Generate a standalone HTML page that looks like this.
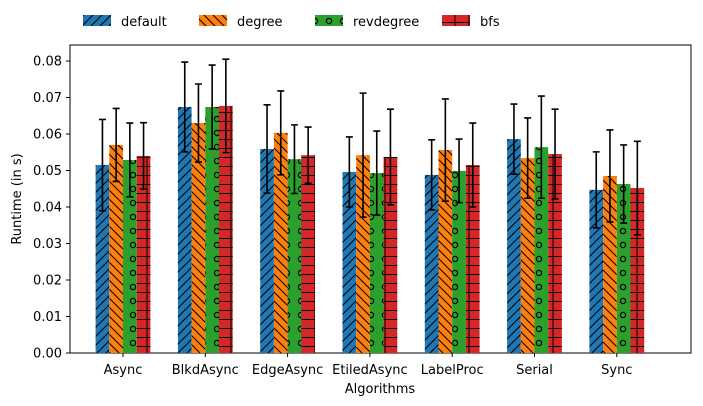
<!DOCTYPE html>
<html><head><meta charset="utf-8"><style>
body{margin:0;background:#fff;}
svg{display:block;font-family:"DejaVu Sans","Liberation Sans",sans-serif;}
</style></head><body>
<svg id="chart" width="703" height="406" viewBox="0 0 703 406">
<defs>
<pattern id="p0" patternUnits="userSpaceOnUse" width="9" height="9"><rect width="9" height="9" fill="#1f77b4"/><path d="M-2,11 L11,-2 M-2,2 L2,-2 M7,11 L11,7" stroke="#000" stroke-width="1"/></pattern>
<pattern id="p1" patternUnits="userSpaceOnUse" width="9" height="9"><rect width="9" height="9" fill="#ff7f0e"/><path d="M-2,-2 L11,11 M7,-2 L11,2 M-2,7 L2,11" stroke="#000" stroke-width="1"/></pattern>
<pattern id="p2" patternUnits="userSpaceOnUse" width="14" height="14"><rect width="14" height="14" fill="#2ca02c"/><circle cx="7" cy="7" r="2.6" fill="none" stroke="#000" stroke-width="1.2"/></pattern>
<pattern id="p3" patternUnits="userSpaceOnUse" width="14" height="9"><rect width="14" height="9" fill="#d62728"/><path d="M0,4.5 H14 M7,0 V9" stroke="#000" stroke-width="1"/></pattern>
</defs>
<g id="legend"></g>
<rect x="70" y="45" width="621" height="308" fill="none" stroke="#000" stroke-width="1"/>
<g id="bars"></g><g id="axes"></g>
<text x="380" y="393" font-size="13" text-anchor="middle">Algorithms</text>
<text x="21" y="199" font-size="13" text-anchor="middle" transform="rotate(-90 21 199)">Runtime (in s)</text>
</svg>
<script>
const categories=["Async","BlkdAsync","EdgeAsync","EtiledAsync","LabelProc","Serial","Sync"];
const seriesNames=["default","degree","revdegree","bfs"];
const defaultVals=[0.0515,0.0674,0.0559,0.0496,0.0488,0.0586,0.0447];
const degreeVals=[0.0570,0.0630,0.0603,0.0542,0.0556,0.0534,0.0485];
const revdegreeVals=[0.0529,0.0674,0.0531,0.0493,0.0499,0.0564,0.0463];
const bfsVals=[0.0540,0.0677,0.0542,0.0537,0.0515,0.0545,0.0452];
const defaultErr=[0.0125,0.0123,0.0121,0.0096,0.0096,0.0096,0.0104];
const degreeErr=[0.0100,0.0107,0.0115,0.0170,0.0140,0.0110,0.0126];
const revdegreeErr=[0.0101,0.0115,0.0094,0.0115,0.0087,0.0140,0.0107];
const bfsErr=[0.0091,0.0128,0.0077,0.0131,0.0115,0.0123,0.0128];
const yTicks=[0,0.01,0.02,0.03,0.04,0.05,0.06,0.07,0.08];
const vals=[defaultVals,degreeVals,revdegreeVals,bfsVals];
const errs=[defaultErr,degreeErr,revdegreeErr,bfsErr];
const NS="http://www.w3.org/2000/svg";
const y=v=>353-v*3650;
const xc=i=>123+i*82.3;
const bw=13.7;
function mk(t,a,p){const e=document.createElementNS(NS,t);for(const k in a)e.setAttribute(k,a[k]);p.appendChild(e);return e;}
const bars=document.getElementById('bars'),axes=document.getElementById('axes'),leg=document.getElementById('legend');
vals.forEach((s,si)=>{s.forEach((v,i)=>{
 const x=xc(i)+(si-2)*bw;
 const r=mk('rect',{x:x,y:y(v),width:bw,height:353-y(v),fill:'url(#p'+si+')'},bars);
 
 
});});
errs.forEach((s,si)=>{s.forEach((e,i)=>{
 const cx=xc(i)+(si-1.5)*bw,v=vals[si][i];
 const g=mk('path',{d:`M${cx},${y(v-e)}V${y(v+e)}M${cx-3.5},${y(v-e)}H${cx+3.5}M${cx-3.5},${y(v+e)}H${cx+3.5}`,stroke:'#000','stroke-width':1.6,fill:'none'},bars);
 
 
});});
yTicks.forEach(t=>{
 mk('line',{x1:66,x2:70,y1:y(t),y2:y(t),stroke:'#000'},axes);
 const tx=mk('text',{x:62,y:y(t)+4.5,'font-size':13,'text-anchor':'end'},axes);tx.textContent=t.toFixed(2);
 
 
});
categories.forEach((c,i)=>{
 mk('line',{x1:xc(i),x2:xc(i),y1:353,y2:357,stroke:'#000'},axes);
 const tx=mk('text',{x:xc(i),y:374,'font-size':13,'text-anchor':'middle'},axes);tx.textContent=c;
 
 
});
const lx=[83,199,315,442];
seriesNames.forEach((n,si)=>{
 const g=mk('g',{},leg);
 
 
 mk('rect',{x:lx[si],y:15,width:28,height:11,fill:'url(#p'+si+')'},g);
 const t=mk('text',{x:lx[si]+38,y:26,'font-size':13},g);t.textContent=n;
});
</script>
</body></html>
